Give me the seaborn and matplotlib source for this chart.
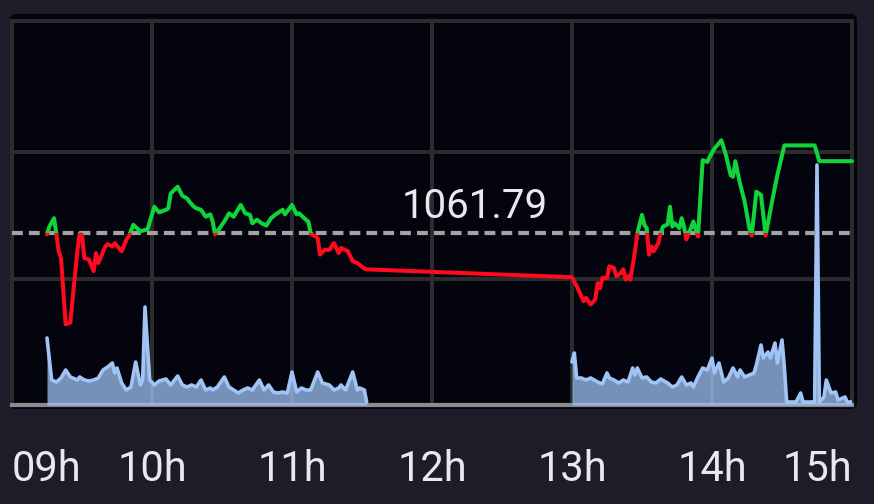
import pandas as pd
import matplotlib
matplotlib.use("Agg")
import matplotlib.pyplot as plt
from matplotlib.patches import Rectangle, FancyBboxPatch
from matplotlib.transforms import IdentityTransform
import seaborn as sns

# time axis = minutes after 09:00
ref_price = 1061.79

price_min = [15, 16, 18, 19, 20, 21, 23, 25, 28, 29, 30, 31, 33, 35, 36, 37, 40, 41, 43, 44,
             47, 49, 50, 52, 55, 57, 58, 61, 63, 66, 67, 68, 71, 73, 75, 76, 78, 79, 81, 83,
             85, 86, 87, 89, 91, 93, 95, 98, 100, 102, 103, 105, 107, 109, 111, 113, 116, 117, 120, 122,
             123, 126, 127, 128, 131, 132, 134, 136, 138, 140, 141, 144, 146, 148, 151, 152,
             240, 242, 243, 245, 246, 248, 250, 251, 252, 253, 255, 256, 258, 259, 261, 262, 263, 264, 265, 267,
             268, 270, 271, 272, 273, 274, 275, 277, 278, 279, 281, 282, 283, 284, 286, 287, 288, 289, 290, 291,
             292, 293, 294, 296, 298, 299, 301, 304, 306, 308, 309, 310, 312, 314, 316, 317, 319, 321, 323, 326,
             328, 331, 344, 346, 360]
price_val = [1061.75, 1062.06, 1062.39, 1061.80, 1061.09, 1060.83, 1058.22, 1058.29, 1061.09, 1061.80,
             1061.74, 1060.83, 1060.76, 1060.31, 1061.02, 1060.63, 1061.28, 1061.37, 1061.28, 1061.41,
             1061.09, 1061.54, 1061.67, 1062.13, 1061.87, 1061.93, 1061.93, 1062.84, 1062.62, 1062.72,
             1062.78, 1063.36, 1063.63, 1063.27, 1063.17, 1063.04, 1062.84, 1062.78, 1062.72, 1062.45,
             1062.54, 1062.26, 1061.76, 1062.00, 1062.26, 1062.58, 1062.45, 1062.91, 1062.58, 1062.52,
             1062.19, 1062.33, 1062.19, 1062.10, 1062.39, 1062.54, 1062.72, 1062.54, 1062.91, 1062.54,
             1062.58, 1062.33, 1062.26, 1061.80, 1061.61, 1060.96, 1061.15, 1061.15, 1061.41, 1061.02,
             1061.22, 1061.09, 1060.70, 1060.63, 1060.41, 1060.38,
             1060.07, 1059.72, 1059.52, 1059.13, 1059.26, 1059.00, 1059.20, 1059.84, 1059.64, 1060.04,
             1060.04, 1060.50, 1060.43, 1060.11, 1060.24, 1060.38, 1059.98, 1060.11, 1059.98, 1061.09,
             1061.80, 1062.52, 1062.13, 1062.00, 1060.96, 1061.28, 1061.09, 1061.41, 1061.80, 1062.06,
             1062.15, 1062.84, 1062.06, 1062.19, 1062.00, 1062.39, 1062.06, 1061.56, 1061.80, 1062.00,
             1062.26, 1061.95, 1061.67, 1064.67, 1064.60, 1064.80, 1065.12, 1065.45, 1064.86, 1064.08,
             1064.02, 1064.63, 1063.75, 1063.04, 1062.00, 1061.71, 1063.43, 1063.30, 1061.71, 1063.17,
             1064.08, 1065.25, 1065.25, 1064.63, 1064.63]

vol_min_am = [15, 17, 19, 21, 23, 25, 26, 28, 29, 31, 33, 35, 37, 39, 41, 43, 44, 45, 47, 49,
              51, 53, 55, 56, 57, 59, 61, 63, 66, 68, 71, 73, 75, 77, 79, 81, 83, 85, 86, 88,
              91, 93, 95, 97, 99, 101, 103, 106, 108, 110, 112, 114, 116, 118, 120, 122, 124, 126, 128, 131,
              133, 136, 138, 140, 141, 143, 146, 148, 149, 151, 152]
vol_am = [67, 25, 23, 27, 35, 28, 27, 25, 28, 25, 24, 25, 27, 35, 38, 42, 32, 37, 22, 15,
          18, 43, 20, 25, 98, 25, 20, 24, 26, 20, 29, 20, 18, 20, 18, 25, 15, 17, 15, 18,
          28, 18, 15, 12, 15, 17, 15, 25, 15, 20, 13, 12, 13, 12, 33, 13, 17, 15, 15, 33,
          22, 20, 15, 17, 20, 15, 33, 15, 17, 15, 3]

vol_min_pm = [240, 241, 242, 244, 246, 248, 251, 253, 255, 256, 258, 260, 262, 264, 266, 267, 268, 270, 272, 274,
              276, 278, 281, 283, 285, 287, 289, 291, 292, 294, 296, 298, 300, 301, 303, 305, 307, 309, 311, 312,
              314, 316, 318, 319, 321, 322, 324, 325, 327, 328, 330, 331, 332, 336, 338, 339, 343, 344, 345, 346,
              348, 349, 351, 353, 354, 357, 358, 360]
vol_pm = [43, 52, 27, 27, 25, 27, 23, 21, 32, 27, 25, 22, 25, 23, 37, 30, 37, 27, 28, 23,
          22, 26, 22, 18, 20, 28, 20, 22, 18, 28, 37, 35, 47, 32, 42, 23, 27, 37, 28, 35,
          28, 30, 32, 40, 60, 47, 53, 47, 62, 42, 65, 38, 3, 3, 12, 3, 3, 3, 240, 3,
          8, 25, 12, 13, 5, 8, 3, 3]

hour_min = [0, 60, 120, 180, 240, 300, 360]
hour_labels = ["09h", "10h", "11h", "12h", "13h", "14h", "15h"]
price_grid = [1060, 1065]

BG = "#1e1c29"
PANEL = "#04040e"
GRID = "#2c2c2c"
UP = "#0fd43a"
DOWN = "#ff0a1e"
DASH = "#a3a3a3"
VOL = "#9fc4f5"
TEXT = "#e8e8ee"

sns.set_style("dark")
plt.rcParams["font.family"] = ["Roboto", "DejaVu Sans"]

fig = plt.figure(figsize=(8.74, 5.04), dpi=100)
fig.patch.set_facecolor(BG)

# dark rounded panel behind the plot (pixel coords)
panel = FancyBboxPatch((10, 95), 847, 395, boxstyle="round,pad=0,rounding_size=6",
                       transform=IdentityTransform(), facecolor=PANEL, edgecolor="none", zorder=-5)
fig.add_artist(panel)

ax = fig.add_axes([12 / 874, 99 / 504, 840 / 874, 384.3 / 504])
ax.set_facecolor("none")
ax.set_xlim(0, 360)
ax.set_ylim(1055.05, 1070.15)
ax.set_xticks(hour_min)
ax.set_xticklabels(hour_labels)
ax.set_yticks(price_grid)
ax.grid(True, color=GRID, lw=2.9)
ax.tick_params(axis="x", length=0, pad=32, labelsize=30, labelcolor=TEXT)
ax.tick_params(axis="y", left=False, labelleft=False)
for side in ["left", "right", "top"]:
    ax.spines[side].set_color(GRID)
    ax.spines[side].set_linewidth(2.9)
ax.spines["bottom"].set_color("#8c8c8c")
ax.spines["bottom"].set_linewidth(3)
labels = ax.get_xticklabels()
labels[0].set_ha("left")
labels[-1].set_ha("right")

# volume (twin axis, under the price line)
ax_vol = ax.twinx()
vol_df = pd.DataFrame({
    "t": vol_min_am + vol_min_pm,
    "v": vol_am + vol_pm,
    "session": ["am"] * len(vol_am) + ["pm"] * len(vol_pm),
})
for _, seg in vol_df.groupby("session"):
    ax_vol.fill_between(seg["t"], seg["v"], color=VOL, alpha=0.74, lw=0)
sns.lineplot(data=vol_df, x="t", y="v", units="session", estimator=None,
             color=VOL, lw=2.6, ax=ax_vol)
ax_vol.set_ylim(0, 384.3)

# price line, green above the reference, red below
ax_px = ax.twinx()
ax_px.set_ylim(ax.get_ylim())
ax_px.axhline(ref_price, color=DASH, lw=3, dashes=(2.6, 1.45), zorder=1)
price_df = pd.DataFrame({"t": price_min, "p": price_val})
for color, y0 in [(DOWN, ref_price - 30), (UP, ref_price)]:
    sns.lineplot(data=price_df, x="t", y="p", estimator=None, color=color, lw=2.9, ax=ax_px, zorder=2)
    ax_px.lines[-1].set_clip_path(Rectangle((-10, y0), 380, 30, transform=ax_px.transData))

ax_px.text(0.551, 0.4866, f"{ref_price:.2f}", transform=ax_px.transAxes, ha="center",
           va="baseline", fontsize=29, color=TEXT)

for a in (ax_vol, ax_px):
    a.set_xlim(0, 360)
    a.set_ylabel("")
    a.set_xlabel("")
    a.tick_params(left=False, right=False, labelleft=False, labelright=False)
    for s in a.spines.values():
        s.set_visible(False)
ax.set_xlabel("")

fig.savefig("out.png", dpi=100, facecolor=BG)
